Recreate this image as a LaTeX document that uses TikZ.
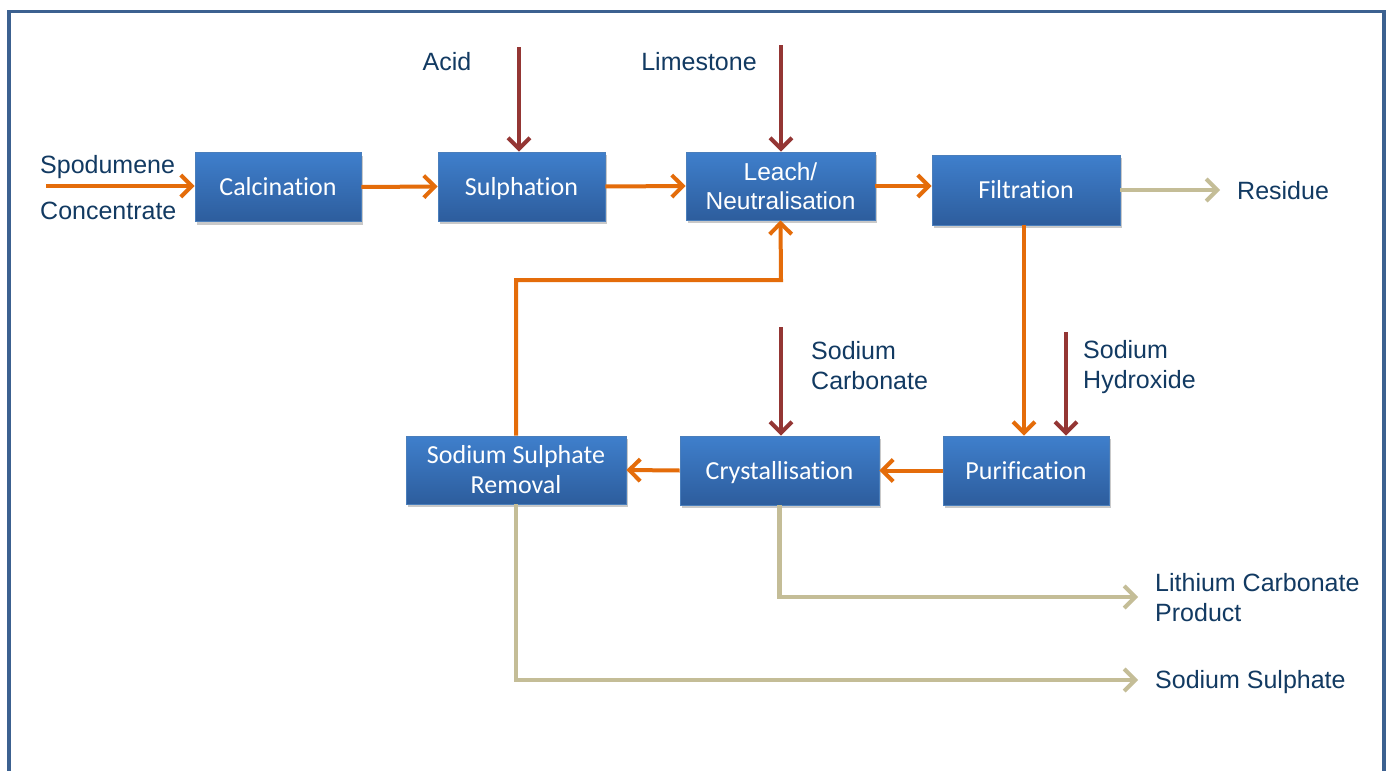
\documentclass[tikz,border=0pt]{standalone}
\usepackage{fontspec}
\setmainfont{Liberation Sans}
\newfontfamily\boxfont[Ligatures=NoCommon]{Carlito}
\usetikzlibrary{arrows.meta,shadows,calc}
\definecolor{frameblue}{HTML}{3C6190}
\definecolor{flow}{HTML}{E46C0A}
\definecolor{reagent}{HTML}{943634}
\definecolor{waste}{HTML}{C4BD97}
\definecolor{labeltext}{HTML}{123A62}
\definecolor{boxtop}{HTML}{3F7FCC}
\definecolor{boxbot}{HTML}{2D5D9D}
\definecolor{boxedge}{HTML}{4A7EBB}
\tikzset{
  procbox/.style={rectangle, draw=boxedge, line width=0.8pt, top color=boxtop, bottom color=boxbot,
    text=white, align=center, inner sep=0pt,
    font=\boxfont\fontsize{26}{30}\selectfont,
    drop shadow={shadow xshift=2pt, shadow yshift=-3pt, opacity=0.35, fill=black!60}},
  oneline/.style={text height=17pt, text depth=0pt},
  lbl/.style={inner sep=0pt, text=labeltext, align=left, font=\fontsize{25}{30}\selectfont},
  head/.style={-{Straight Barb[length=11pt,width=22pt,line width=4pt]}},
  mainflow/.style={head, draw=flow, line width=4pt},
  reagentflow/.style={head, draw=reagent, line width=4pt},
  wasteflow/.style={head, draw=waste, line width=4.5pt}
}
\begin{document}
\begin{tikzpicture}[x=1pt,y=-1pt]
\useasboundingbox (0,0) rectangle (1390,771);
\fill[white] (0,0) rectangle (1390,771);
\draw[frameblue, line width=3.5pt] (9,771) -- (9,11.5) -- (1384,11.5) -- (1384,771);

% process boxes
\node[procbox, oneline, minimum width=166pt, minimum height=69pt] (calc) at (278,187) {Calcination};
\node[procbox, oneline, minimum width=167pt, minimum height=69pt] (sulph) at (521.5,186.5) {Sulphation};
\node[procbox, minimum width=189pt, minimum height=68pt, font=\fontsize{24.5}{29}\selectfont] (leach) at (780.5,186) {Leach/\\Neutralisation};
\node[procbox, oneline, minimum width=188pt, minimum height=70pt] (filt) at (1026,190) {Filtration};
\node[procbox, oneline, minimum width=166pt, minimum height=69pt] (pur) at (1026,470.5) {Purification};
\node[procbox, oneline, minimum width=199pt, minimum height=69pt] (cryst) at (779.5,470.5) {Crystallisation};
\node[procbox, minimum width=220pt, minimum height=68pt] (ssr) at (516,470) {Sodium Sulphate\\Removal};

% labels
\node[lbl, anchor=west] (spod) at (40,167) {Spodumene};
\node[lbl, anchor=west] (conc) at (40,211) {Concentrate};
\node[lbl] (acid) at (447,62) {Acid};
\node[lbl] (lime) at (699,62) {Limestone};
\node[lbl, anchor=west] (resid) at (1237,191) {Residue};
\node[lbl, anchor=west] (nacarb) at (811,366) {Sodium\\Carbonate};
\node[lbl, anchor=west] (naoh) at (1083,367) {Sodium\\Hydroxide};
\node[lbl, anchor=west] (lcp) at (1155,598) {Lithium Carbonate\\Product};
\node[lbl, anchor=west] (nasul) at (1155,682) {Sodium Sulphate};

% free ends
\coordinate (feed) at (46,186);
\coordinate (acidtop) at (519,47);
\coordinate (limetop) at (781,45);
\coordinate (naohtop) at (1066,332);
\coordinate (nacarbtop) at (781,327);
\coordinate (residend) at (1220,190);
\coordinate (ret) at (781,280);
\coordinate (lcpend) at (1138,597);
\coordinate (nasulend) at (1138,680);

% main flow
\draw[mainflow] (feed) -- (feed -| calc.west);
\draw[mainflow] (calc.east) -- (sulph.west);
\draw[mainflow] (sulph.east) -- (leach.west);
\draw[mainflow] (leach.east) -- (leach.east -| filt.west);
\draw[mainflow] ($(filt.south)+(-2,0)$) -- ($(pur.north)+(-2,0)$);
\draw[mainflow] (pur.west) -- (cryst.east);
\draw[mainflow] (cryst.west) -- (ssr.east);
\draw[mainflow] (ssr.north) |- (ret) -- (leach.south);

% reagents
\draw[reagentflow] (acidtop) -- (acidtop |- sulph.north);
\draw[reagentflow] (limetop) -- (limetop |- leach.north);
\draw[reagentflow] (naohtop) -- (naohtop |- pur.north);
\draw[reagentflow] (nacarbtop) -- (nacarbtop |- cryst.north);

% products / waste
\draw[wasteflow] (filt.east) -- (residend);
\draw[wasteflow] (cryst.south) |- (lcpend);
\draw[wasteflow] (ssr.south) |- (nasulend);
\end{tikzpicture}
\end{document}
